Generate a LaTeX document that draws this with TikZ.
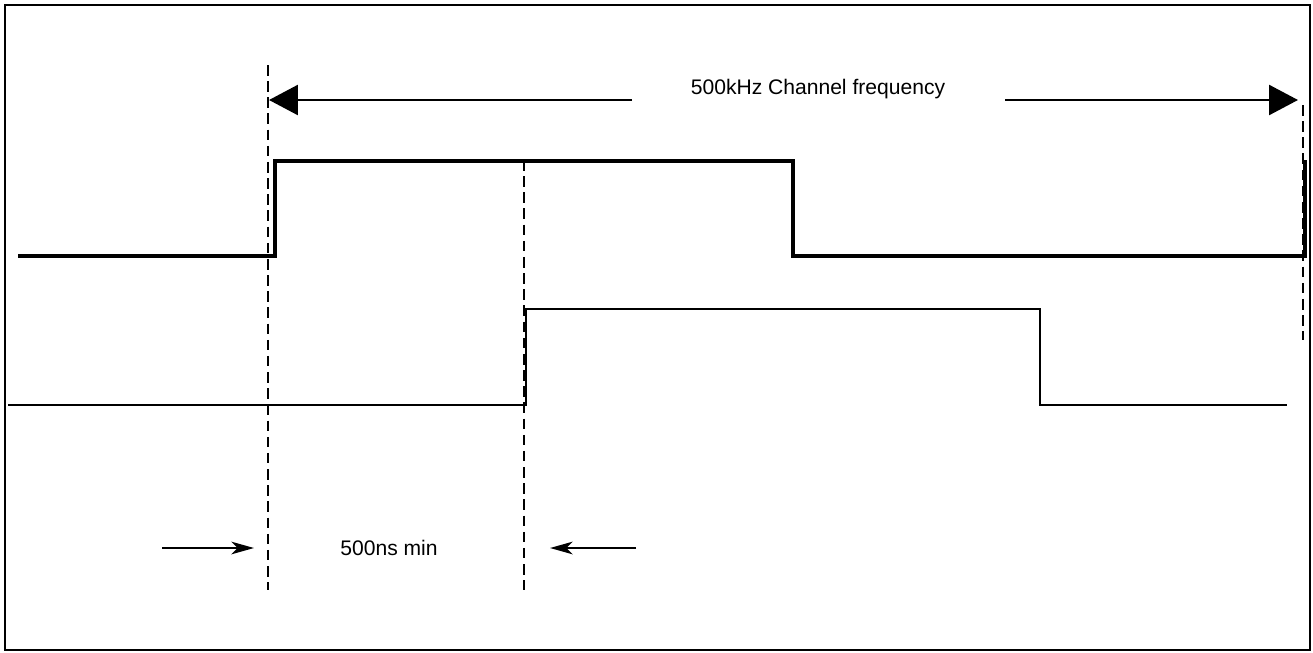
\documentclass[tikz,border=0pt]{standalone}
\usepackage{fontspec}
\setmainfont{Liberation Sans}
\usetikzlibrary{arrows.meta}
\tikzstyle{sigA} = [line width=1.9pt]
\tikzstyle{sigB} = [line width=1.6pt]
\tikzstyle{mark line} = [line width=1.6pt, dash pattern=on 6pt off 3.2pt]
\tikzstyle{bigArrow} = [line width=1.5pt, -{Triangle[length=0.58cm, width=0.6cm]}]
\tikzstyle{smallArrow} = [line width=1.5pt, -{Stealth[length=0.45cm, width=0.25cm, inset=0.12cm]}]
\tikzstyle{label} = [font=\fontsize{12}{14}\selectfont, inner sep=0pt, anchor=base]

\begin{document}
\begin{tikzpicture}[x=0.02cm, y=-0.02cm]
		\useasboundingbox (0,0) rectangle (1313,653);
		\draw[line width=1.6pt] (5,5) rectangle (1310,650);
		% timing markers
		\coordinate (m1t) at (268,65);   \coordinate (m1b) at (268,590);
		\coordinate (m2t) at (524,160);  \coordinate (m2b) at (524,590);
		\coordinate (m3t) at (1303,105); \coordinate (m3b) at (1303,340);
		\draw[mark line] (m1t) -- (m1b);
		\draw[mark line] (m2t) -- (m2b);
		\draw[mark line] (m3t) -- (m3b);
		% signals
		\draw[sigA] (18,256) -- (275,256) -- (275,161) -- (793,161) -- (793,256) -- (1305,256) -- (1305,160);
		\draw[sigB] (8,405) -- (526,405) -- (526,309) -- (1040,309) -- (1040,405) -- (1287,405);
		% labels
		\node[label] (freq) at (818,94) {500kHz Channel frequency};
		\node[label] (minw) at (389,555) {500ns min};
		% dimension arrows
		\coordinate (fL) at (632,100); \coordinate (fLt) at (269,100);
		\coordinate (fR) at (1005,100); \coordinate (fRt) at (1298,100);
		\draw[bigArrow] (fL) -- (fLt);
		\draw[bigArrow] (fR) -- (fRt);
		\coordinate (wL) at (162,548); \coordinate (wLt) at (254,548);
		\coordinate (wR) at (636,548); \coordinate (wRt) at (550,548);
		\draw[smallArrow] (wL) -- (wLt);
		\draw[smallArrow] (wR) -- (wRt);
		
		\end{tikzpicture}
\end{document}
